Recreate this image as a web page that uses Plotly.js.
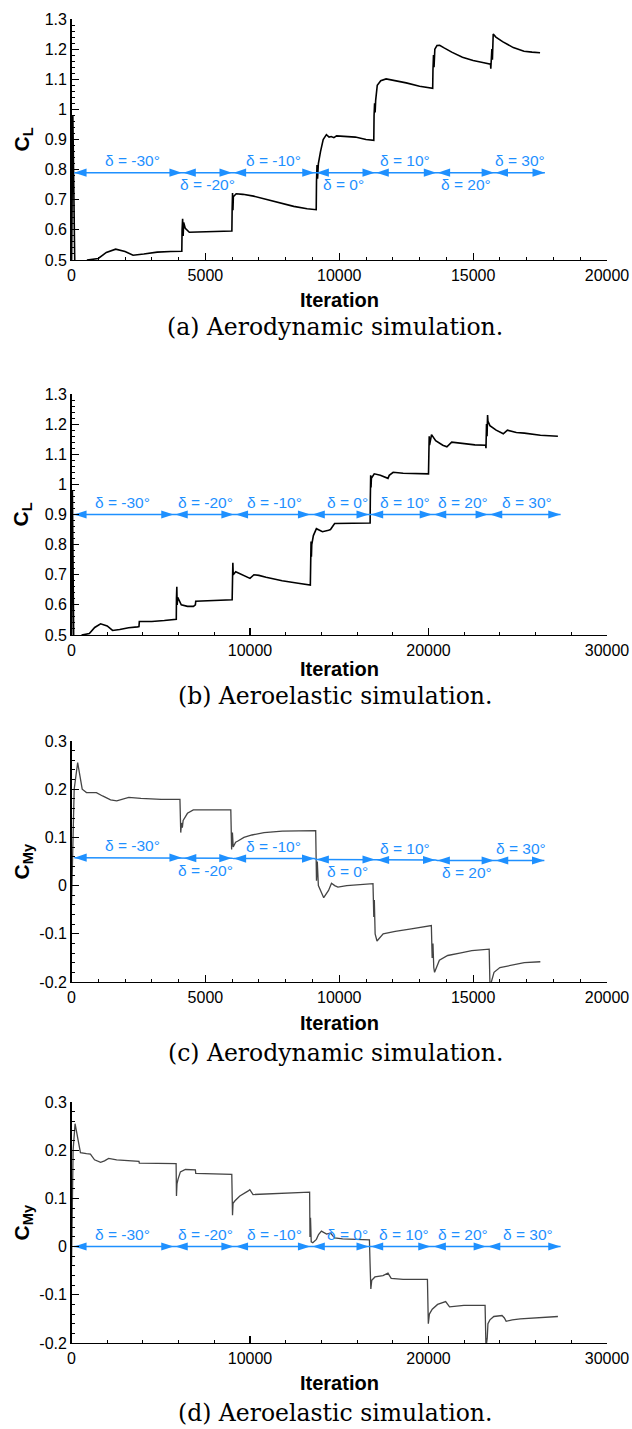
<!DOCTYPE html>
<html><head><meta charset="utf-8">
<script src="https://cdn.plot.ly/plotly-3.0.1.min.js"></script>
<style>html,body{margin:0;padding:0;background:#fff}</style>
</head><body><div id="chart" style="width:632px;height:1429px"></div>
<script>
// ---------------- DATA ----------------
// (a) C_L, aerodynamic simulation
const aeroCLIter = [0, 50, 150, 350, 600, 1000, 1300, 1650, 2000, 2300, 2700, 3200, 3700, 4120,
 4130, 4150, 4170, 4190, 4250, 4400, 4700, 5300, 5990,
 6000, 6015, 6030, 6045, 6150, 6400, 6800, 7300, 7800, 8300, 8800, 9140,
 9150, 9170, 9190, 9220, 9300, 9400, 9520, 9620, 9700, 9800, 9900, 10200, 10600, 11000, 11290,
 11300, 11320, 11340, 11360, 11420, 11550, 11750, 12000, 12500, 13000, 13490,
 13500, 13520, 13540, 13570, 13650, 13750, 13900, 14200, 14600, 15000, 15400, 15650,
 15660, 15680, 15700, 15720, 15750, 15850, 16100, 16500, 16900, 17200, 17500];
const aeroCLVal = [0.45, 0.98, 0.3, 0.42, 0.5, 0.505, 0.525, 0.536, 0.528, 0.516, 0.52, 0.526, 0.528, 0.529,
 0.6, 0.637, 0.58, 0.625, 0.605, 0.592, 0.593, 0.594, 0.596,
 0.67, 0.722, 0.665, 0.71, 0.72, 0.718, 0.712, 0.7, 0.688, 0.678, 0.67, 0.667,
 0.76, 0.815, 0.77, 0.82, 0.86, 0.9, 0.916, 0.908, 0.91, 0.906, 0.912, 0.91, 0.908, 0.9, 0.897,
 0.98, 1.02, 0.99, 1.03, 1.08, 1.095, 1.101, 1.097, 1.088, 1.077, 1.07,
 1.13, 1.18, 1.14, 1.2, 1.212, 1.213, 1.205, 1.19, 1.173, 1.162, 1.155, 1.15,
 1.135, 1.17, 1.2, 1.165, 1.25, 1.24, 1.225, 1.205, 1.193, 1.19, 1.188];

// (b) C_L, aeroelastic simulation
const elasCLIter = [0, 50, 150, 350, 600, 1000, 1300, 1630, 2000, 2300, 2700, 3200, 3700, 3780, 3800, 4500, 5200, 5870,
 5880, 5900, 5920, 5950, 6150, 6500, 6830, 6940, 6960, 7500, 8300, 9000,
 9020, 9040, 9060, 9200, 9600, 10000, 10220, 10500, 10900, 11800, 12700, 13380,
 13400, 13420, 13440, 13460, 13550, 13720, 14060, 14400, 14510, 14740, 15300, 16000, 16730,
 16740, 16760, 16780, 16800, 16960, 17300, 17730, 17800, 18020, 18580, 19300, 20000,
 20020, 20040, 20060, 20170, 20400, 20800, 21030, 21300, 21980, 22600, 23200,
 23220, 23250, 23280, 23310, 23330, 23440, 23790, 24190, 24420, 24920, 25370, 26270, 27250];
const elasCLVal = [0.45, 0.98, 0.3, 0.42, 0.5, 0.505, 0.525, 0.537, 0.53, 0.515, 0.518, 0.524, 0.527, 0.528, 0.545, 0.545, 0.548, 0.552,
 0.62, 0.66, 0.6, 0.625, 0.6, 0.595, 0.595, 0.6, 0.612, 0.613, 0.615, 0.617,
 0.68, 0.74, 0.7, 0.71, 0.7, 0.688, 0.7, 0.698, 0.692, 0.68, 0.672, 0.666,
 0.74, 0.81, 0.76, 0.8, 0.83, 0.853, 0.843, 0.848, 0.85, 0.87, 0.871, 0.872, 0.872,
 0.95, 1.03, 0.99, 1.02, 1.035, 1.03, 1.02, 1.03, 1.04, 1.037, 1.035, 1.035,
 1.1, 1.16, 1.13, 1.165, 1.145, 1.13, 1.125, 1.14, 1.135, 1.131, 1.13,
 1.12, 1.2, 1.16, 1.23, 1.21, 1.195, 1.18, 1.168, 1.18, 1.172, 1.17, 1.163, 1.16];

// (c) C_My, aerodynamic simulation
const aeroCMyIter = [0, 40, 100, 230, 400, 560, 930, 1160, 1460, 1690, 1990, 2140, 2590, 3350, 4050,
 4080, 4110, 4140, 4170, 4330, 4550, 5200, 5950,
 5980, 6010, 6040, 6130, 6200, 6440, 6740, 7190, 7870, 8500, 9120,
 9150, 9180, 9220, 9340, 9420, 9600, 9710, 9830, 9950, 10280, 10880, 11260,
 11290, 11310, 11340, 11410, 11640, 12090, 12690, 13140, 13440,
 13470, 13500, 13530, 13560, 13740, 14050, 14500, 14950, 15600,
 15630, 15680, 15780, 16000, 16460, 16910, 17510];
const aeroCMyVal = [-0.04, 0.05, 0.2, 0.255, 0.2, 0.193, 0.193, 0.186, 0.178, 0.176, 0.18, 0.183, 0.181, 0.179, 0.179,
 0.11, 0.13, 0.12, 0.135, 0.15, 0.157, 0.157, 0.157,
 0.075, 0.11, 0.08, 0.09, 0.092, 0.1, 0.105, 0.11, 0.113, 0.114, 0.114,
 0.01, 0.05, 0.0, -0.015, -0.025, -0.01, 0.005, 0.0, -0.003, 0.0, 0.003, 0.004,
 -0.065, -0.03, -0.1, -0.115, -0.1, -0.095, -0.09, -0.085, -0.083,
 -0.15, -0.12, -0.17, -0.18, -0.155, -0.145, -0.14, -0.135, -0.132,
 -0.21, -0.2, -0.18, -0.17, -0.165, -0.16, -0.158];

// (d) C_My, aeroelastic simulation
const elasCMyIter = [0, 40, 90, 200, 500, 840, 1060, 1290, 1630, 1850, 2080, 2530, 3660, 3780, 3800, 5020, 5860,
 5880, 5910, 5970, 6100, 6380, 6830, 6940, 6960, 7730, 8980,
 9020, 9050, 9160, 9430, 9880, 9990, 10170, 11350, 12250, 13340,
 13360, 13390, 13430, 13520, 13720, 13840, 14000, 14290, 14510, 14740, 15190, 15870, 16690,
 16730, 16770, 16820, 17000, 17450, 17730, 17910, 18580, 19940,
 19990, 20050, 20210, 20510, 20960, 21180, 21980, 23170,
 23220, 23290, 23330, 23440, 23660, 24120, 24250, 24350, 24690, 25140, 26050, 27250];
const elasCMyVal = [-0.04, 0.05, 0.2, 0.255, 0.195, 0.193, 0.192, 0.18, 0.175, 0.178, 0.183, 0.18, 0.178, 0.177, 0.173, 0.173, 0.172,
 0.105, 0.13, 0.14, 0.155, 0.16, 0.16, 0.159, 0.152, 0.151, 0.15,
 0.065, 0.09, 0.095, 0.105, 0.115, 0.118, 0.108, 0.11, 0.112, 0.113,
 0.02, 0.06, 0.01, 0.008, 0.015, 0.025, 0.032, 0.026, 0.028, 0.018, 0.016, 0.015, 0.014,
 -0.04, -0.088, -0.07, -0.063, -0.06, -0.055, -0.066, -0.068, -0.068,
 -0.16, -0.14, -0.13, -0.12, -0.114, -0.125, -0.122, -0.122,
 -0.21, -0.19, -0.16, -0.152, -0.145, -0.143, -0.148, -0.155, -0.152, -0.15, -0.148, -0.145];

// flap deflection ranges (double arrows)
const deltaLabels = ['δ = -30°', 'δ = -20°', 'δ = -10°', 'δ = 0°', 'δ = 10°', 'δ = 20°', 'δ = 30°'];

const aeroCLSegStart = [100, 4180, 6060, 9150, 11390, 13680, 15840];
const aeroCLSegEnd   = [4120, 5990, 9080, 11330, 13620, 15780, 17680];
const aeroCLLevel    = [0.79, 0.79, 0.79, 0.79, 0.79, 0.79, 0.79];
const aeroCLLabelX   = [2260, 5080, 7560, 10160, 12460, 14720, 16760];

const elasCLSegStart = [150, 5820, 9200, 13500, 16770, 20300, 23440];
const elasCLSegEnd   = [5720, 9090, 13380, 16660, 20200, 23330, 27400];
const elasCLLevel    = [0.9, 0.9, 0.9, 0.9, 0.9, 0.9, 0.9];
const elasCLLabelX   = [2880, 7500, 11350, 15460, 18690, 21930, 25540];

const aeroCMySegStart = [105, 4200, 6060, 9150, 11400, 13670, 15850];
const aeroCMySegEnd   = [4120, 5980, 9070, 11330, 13590, 15780, 17660];
const aeroCMyLevel    = [0.058, 0.057, 0.056, 0.054, 0.053, 0.052, 0.052];
const aeroCMyLabelX   = [2290, 5000, 7540, 10310, 12460, 14770, 16790];

const elasCMySegStart = [150, 5820, 9200, 13500, 16770, 20280, 23330];
const elasCMySegEnd   = [5720, 9090, 13380, 16660, 20120, 23220, 27400];
const elasCMyLevel    = [0, 0, 0, 0, 0, 0, 0];
const elasCMyLabelX   = [2870, 7500, 11350, 15460, 18650, 21930, 25550];

// ticks
const aeroXTicks = [0, 5000, 10000, 15000, 20000];
const aeroXTickText = ['0', '5000', '10000', '15000', '20000'];
const elasXTicks = [0, 10000, 20000, 30000];
const elasXTickText = ['0', '10000', '20000', '30000'];
const clTicks = [0.5, 0.6, 0.7, 0.8, 0.9, 1.0, 1.1, 1.2, 1.3];
const clTickText = ['0.5', '0.6', '0.7', '0.8', '0.9', '1', '1.1', '1.2', '1.3'];
const cmTicks = [-0.2, -0.1, 0, 0.1, 0.2, 0.3];
const cmTickText = ['-0.2', '-0.1', '0', '0.1', '0.2', '0.3'];

const captions = ['(a) Aerodynamic simulation.', '(b) Aeroelastic simulation.',
                  '(c) Aerodynamic simulation.', '(d) Aeroelastic simulation.'];

// ---------------- LAYOUT / STYLE ----------------
const W = 632, H = 1429;
const BLUE = '#1E90FF';
const SANS = 'Liberation Sans, Arial, Helvetica, sans-serif';
const SERIF = 'DejaVu Serif, serif';
const X0 = 71.5, X1 = 607;
const py = p => 1 - p / H;

const panels = [
  {x: aeroCLIter, y: aeroCLVal, color: '#000', lw: 1.6, xr: [0, 20000], xt: aeroXTicks, xtt: aeroXTickText, xm: 1000,
   yr: [0.5, 1.3], yt: clTicks, ytt: clTickText, ym: 0.02, ytitle: '<b>C<sub>L</sub></b>',
   ss: aeroCLSegStart, se: aeroCLSegEnd, lv: aeroCLLevel, lx: aeroCLLabelX, alt: true,
   top: 19, bottom: 260, iterY: 300, capY: 327},
  {x: elasCLIter, y: elasCLVal, color: '#000', lw: 1.6, xr: [0, 30000], xt: elasXTicks, xtt: elasXTickText, xm: 2000,
   yr: [0.5, 1.3], yt: clTicks, ytt: clTickText, ym: 0.02, ytitle: '<b>C<sub>L</sub></b>',
   ss: elasCLSegStart, se: elasCLSegEnd, lv: elasCLLevel, lx: elasCLLabelX, alt: false,
   top: 394, bottom: 635, iterY: 669, capY: 696},
  {x: aeroCMyIter, y: aeroCMyVal, color: '#444', lw: 1.3, xr: [0, 20000], xt: aeroXTicks, xtt: aeroXTickText, xm: 1000,
   yr: [-0.2, 0.3], yt: cmTicks, ytt: cmTickText, ym: 0.02, ytitle: '<b>C<sub>My</sub></b>',
   ss: aeroCMySegStart, se: aeroCMySegEnd, lv: aeroCMyLevel, lx: aeroCMyLabelX, alt: true,
   top: 741, bottom: 982, iterY: 1023, capY: 1053},
  {x: elasCMyIter, y: elasCMyVal, color: '#444', lw: 1.3, xr: [0, 30000], xt: elasXTicks, xtt: elasXTickText, xm: 2000,
   yr: [-0.2, 0.3], yt: cmTicks, ytt: cmTickText, ym: 0.02, ytitle: '<b>C<sub>My</sub></b>',
   ss: elasCMySegStart, se: elasCMySegEnd, lv: elasCMyLevel, lx: elasCMyLabelX, alt: false,
   top: 1102, bottom: 1343, iterY: 1383, capY: 1413}
];

const traces = [];
const annotations = [];
const layout = {
  width: W, height: H, autosize: false,
  margin: {l: 0, r: 0, t: 0, b: 0, pad: 0},
  paper_bgcolor: '#fff', plot_bgcolor: '#fff',
  showlegend: false, hovermode: false,
  font: {family: SANS, color: '#000'}
};

const axCommon = {
  showgrid: false, zeroline: false, showline: true, linecolor: '#000', linewidth: 1.4,
  ticks: 'inside', ticklen: 7, tickwidth: 1.2, tickcolor: '#000',
  tickfont: {family: SANS, size: 16, color: '#000'}, fixedrange: true, tickmode: 'array'
};

panels.forEach((p, i) => {
  const sfx = i === 0 ? '' : String(i + 1);
  const xa = 'x' + sfx, ya = 'y' + sfx;

  traces.push({x: p.x, y: p.y, mode: 'lines', line: {color: p.color, width: p.lw},
               xaxis: xa, yaxis: ya, hoverinfo: 'skip'});

  // arrow line
  const lx = [], ly = [];
  p.ss.forEach((s, k) => { lx.push(s, p.se[k]); ly.push(p.lv[k], p.lv[k]); });
  traces.push({x: lx, y: ly, mode: 'lines', line: {color: BLUE, width: 1.5},
               xaxis: xa, yaxis: ya, hoverinfo: 'skip'});
  // arrow heads
  const hx = p.ss.concat(p.se);
  const hy = p.lv.concat(p.lv);
  const ang = p.ss.map(() => -90).concat(p.se.map(() => 90));
  traces.push({x: hx, y: hy, mode: 'markers', cliponaxis: false,
               marker: {symbol: 'arrow', size: 13, color: BLUE, angle: ang, line: {width: 0}},
               xaxis: xa, yaxis: ya, hoverinfo: 'skip'});
  // labels
  p.lx.forEach((x, k) => {
    const above = !p.alt || k % 2 === 0;
    annotations.push({xref: xa, yref: ya, x: x, y: p.lv[k], text: deltaLabels[k], showarrow: false,
      xanchor: 'center', yanchor: 'middle', yshift: above ? 12 : -12,
      font: {family: SANS, size: 15.5, color: BLUE}});
  });

  layout['xaxis' + sfx] = Object.assign({}, axCommon, {
    domain: [X0 / W, X1 / W], range: p.xr, anchor: ya, tickvals: p.xt, ticktext: p.xtt,
    minor: {tickmode: 'linear', tick0: 0, dtick: p.xm, ticks: 'inside', ticklen: 3.5, tickwidth: 1, tickcolor: '#000', showgrid: false}
  });
  layout['yaxis' + sfx] = Object.assign({}, axCommon, {
    domain: [py(p.bottom), py(p.top)], range: p.yr, anchor: xa, tickvals: p.yt, ticktext: p.ytt,
    minor: {tickmode: 'linear', tick0: 0, dtick: p.ym, ticks: 'inside', ticklen: 3.5, tickwidth: 1, tickcolor: '#000', showgrid: false}
  });

  annotations.push({xref: 'paper', yref: 'paper', x: 22 / W, y: py((p.top + p.bottom) / 2),
    text: p.ytitle, textangle: -90, showarrow: false, xanchor: 'center', yanchor: 'middle',
    font: {family: SANS, size: 21, color: '#000'}});
  annotations.push({xref: 'paper', yref: 'paper', x: (X0 + X1) / 2 / W, y: py(p.iterY),
    text: '<b>Iteration</b>', showarrow: false, xanchor: 'center', yanchor: 'middle',
    font: {family: SANS, size: 20, color: '#000'}});
  annotations.push({xref: 'paper', yref: 'paper', x: 335 / W, y: py(p.capY),
    text: captions[i], showarrow: false, xanchor: 'center', yanchor: 'middle',
    font: {family: SERIF, size: 23.5, color: '#000'}});
});

layout.annotations = annotations;
Plotly.newPlot('chart', traces, layout, {staticPlot: true, displayModeBar: false});
</script></body></html>
